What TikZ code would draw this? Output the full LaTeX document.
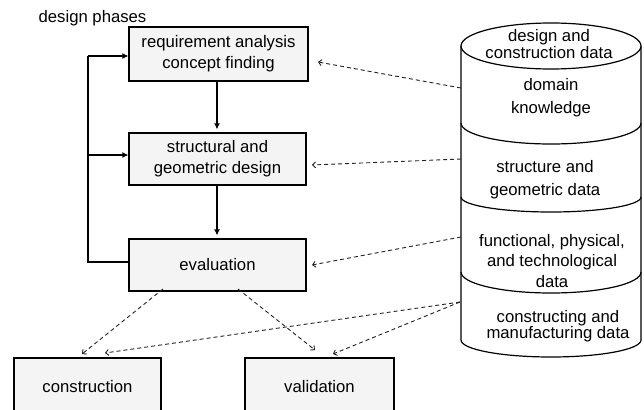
\documentclass[tikz,border=0pt]{standalone}
\usepackage{fontspec}
\setmainfont{Liberation Sans}
\usetikzlibrary{arrows.meta}
\definecolor{boxgray}{HTML}{F4F4F4}
\definecolor{dashgray}{HTML}{222222}
\begin{document}
\begin{tikzpicture}[x=1pt,y=1pt,
  txt/.style={inner sep=0pt, align=center, font=\fontsize{16.7}{#1}\selectfont},
  txt/.default=21,
  phase/.style={draw, line width=1.2pt, fill=boxgray, inner sep=0pt, align=center,
    font=\fontsize{16.7}{21}\selectfont},
  flow/.style={line width=1.8pt, -{Latex[length=6pt,width=6pt]}},
  feed/.style={line width=1.8pt},
  data/.style={line width=0.9pt, dash pattern=on 4pt off 3pt, draw=dashgray,
    -{Straight Barb[length=3pt,width=6pt]}},
  store/.style={line width=1.2pt}]
\useasboundingbox (0,0) rectangle (644,-409);
\clip (0,0) rectangle (644,-409);

% design phases
\node[txt] (title) at (92.5,-18.5) {design phases};
\node[phase, minimum width=179pt, minimum height=54pt] (req) at (218.5,-54)
  {requirement analysis\\concept finding};
\node[phase, minimum width=177pt, minimum height=52pt] (struct) at (217.5,-159)
  {structural and\\geometric design};
\node[phase, minimum width=177pt, minimum height=52pt] (eval) at (217.5,-265)
  {evaluation};
\node[phase, minimum width=147pt, minimum height=58pt] (constr) at (87.5,-387)
  {construction};
\node[phase, minimum width=149pt, minimum height=58pt] (valid) at (319.5,-387)
  {validation};

% sequence of phases
\coordinate (axis) at (217,0);
\draw[flow] (req.south -| axis) -- ([yshift=3pt]struct.north -| axis);
\draw[flow] (struct.south -| axis) -- ([yshift=3pt]eval.north -| axis);

% feedback from evaluation
\coordinate (fbB) at (88,-262);
\coordinate (fbM) at (88,-155);
\coordinate (fbT) at (88,-56);
\draw[feed] (eval.west |- fbB) -- (fbB) -- (fbT);
\draw[flow] (fbT) -- (req.west |- fbT);
\draw[flow] (fbM) -- (struct.west |- fbM);

% product database
\filldraw[store, fill=white] (461,-46) -- (461,-340)
  arc[start angle=180, end angle=360, x radius=90, y radius=17] -- (641,-46);
\filldraw[store, fill=white] (551,-46) ellipse[x radius=90, y radius=23];
\draw[store] (461,-123) arc[start angle=180, end angle=360, x radius=90, y radius=21];
\draw[store] (461,-197) arc[start angle=180, end angle=360, x radius=90, y radius=15];
\draw[store] (461,-272) arc[start angle=180, end angle=360, x radius=90, y radius=21];

\node[txt=15] (dbTop) at (549,-44) {design and\\construction data};
\node[txt=23] (dbDomain) at (551,-98) {domain\\knowledge};
\node[txt=23] (dbStruct) at (545,-180) {structure and\\geometric data};
\node[txt=20.5] (dbFunc) at (552,-261) {functional, physical,\\and technological\\data};
\node[txt=15] (dbManu) at (558,-326) {constructing and\\manufacturing data};

% data flows
\coordinate (c1) at (461,-88);
\coordinate (c2) at (461,-159);
\coordinate (c3) at (461,-237);
\coordinate (c4) at (460,-302);
\coordinate (t1) at (318,-62);
\coordinate (t2) at (312,-165);
\coordinate (t3) at (312,-265);
\coordinate (t4) at (105,-353);
\coordinate (t5) at (333,-354);
\coordinate (e1) at (163,-289);
\coordinate (e2) at (238,-289);
\coordinate (t6) at (82,-354);
\coordinate (t7) at (315,-350);
\draw[data] (c1) -- (t1);
\draw[data] (c2) -- (t2);
\draw[data] (c3) -- (t3);
\draw[data] (c4) -- (t4);
\draw[data] (c4) -- (t5);
\draw[data] (e1) -- (t6);
\draw[data] (e2) -- (t7);
\end{tikzpicture}
\end{document}
